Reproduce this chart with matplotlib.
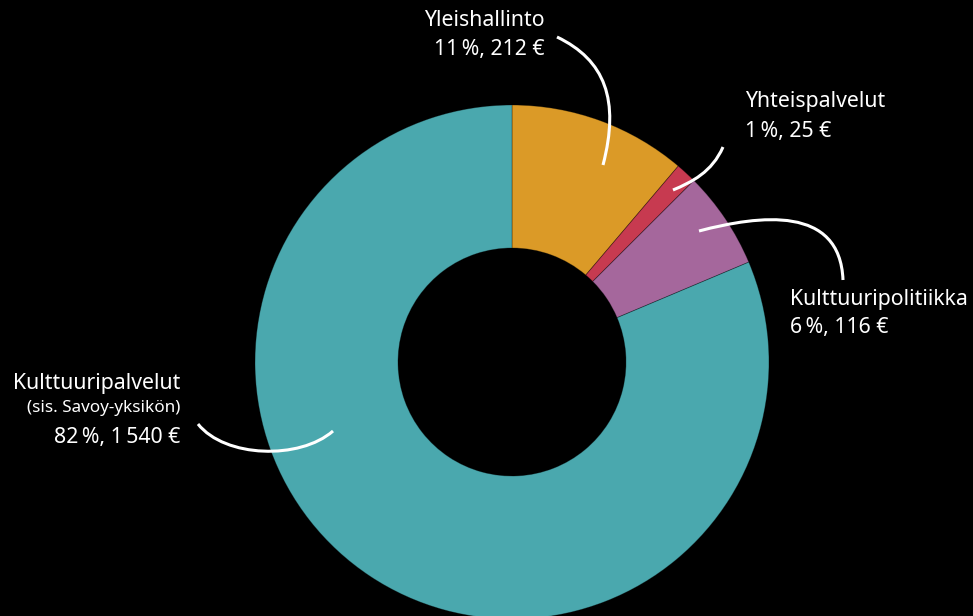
import matplotlib
matplotlib.use("Agg")
from matplotlib import pyplot as plt
from matplotlib.path import Path
from matplotlib.patches import PathPatch

plt.rcParams['font.family'] = ['Noto Sans', 'DejaVu Sans']

# data
categories = ['Yleishallinto', 'Yhteispalvelut', 'Kulttuuripolitiikka', 'Kulttuuripalvelut']
euros = [212, 25, 116, 1540]
percents = [11, 1, 6, 82]
colors = ['#DB9A27', '#C73A50', '#A5679C', '#4AA8AE']

W, H = 973, 616


def py(y):
    # pixel row -> data y
    return H - y


fig = plt.figure(figsize=(W / 100, H / 100), dpi=100, facecolor='black')
ax = fig.add_axes([0, 0, 1, 1])
ax.set_facecolor('black')

r_out, r_in = 257, 114
ax.pie(euros, colors=colors, startangle=90, counterclock=False,
       center=(512, py(362)), radius=r_out, frame=True,
       wedgeprops=dict(width=r_out - r_in, edgecolor=(0, 0, 0, 0.35), linewidth=0.6))
ax.set_xlim(0, W)
ax.set_ylim(0, H)
ax.set_aspect('equal')
ax.axis('off')


def leader(p0, p1, p2, p3):
    verts = [(x, py(y)) for x, y in (p0, p1, p2, p3)]
    path = Path(verts, [Path.MOVETO, Path.CURVE4, Path.CURVE4, Path.CURVE4])
    ax.add_patch(PathPatch(path, fill=False, edgecolor='white', lw=2.2,
                           capstyle='butt', zorder=5))


leader((557, 37), (605, 60), (620, 100), (603, 165))
leader((723, 147), (712, 172), (692, 182), (673, 190))
leader((699, 231), (760, 215), (840, 205), (843, 280))
leader((198, 424), (225, 458), (300, 460), (333, 431))


def lab(x, y, s, ha, size=15.3):
    ax.text(x, py(y), s, color='white', ha=ha, va='center', fontsize=size)


def fmt(i):
    e = f'{euros[i]:,}'.replace(',', '\u2009')
    return f'{percents[i]}\u2009%, {e} €'


lab(545, 21, categories[0], 'right')
lab(545, 50, fmt(0), 'right')
lab(745, 102, categories[1], 'left')
lab(745, 132, fmt(1), 'left')
lab(790, 299, categories[2], 'left')
lab(790, 328, fmt(2), 'left')
lab(180, 384, categories[3], 'right')
lab(180, 408, '(sis. Savoy-yksikön)', 'right', size=12.3)
lab(180, 438, fmt(3), 'right')

fig.savefig('out.png', dpi=100, facecolor='black')
